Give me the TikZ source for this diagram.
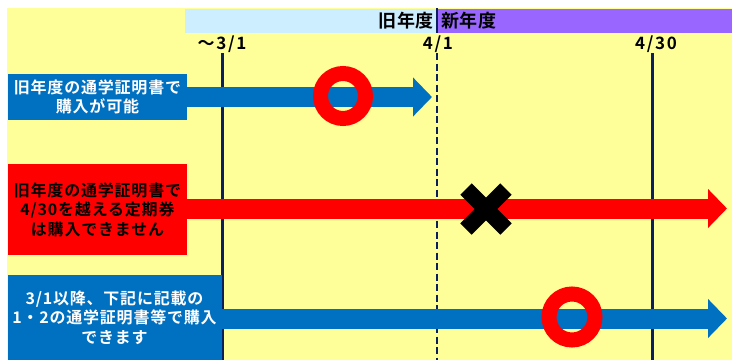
\documentclass[tikz,border=0pt]{standalone}
\usepackage{fontspec}
\setmainfont{Noto Sans CJK JP Bold}
\usetikzlibrary{arrows.meta,calc}
\definecolor{bgyellow}{HTML}{FFFF99}
\definecolor{hdblue}{HTML}{CCEEFF}
\definecolor{hdpurple}{HTML}{9966FF}
\definecolor{boxblue}{HTML}{0070C0}
\definecolor{boxred}{HTML}{FF0000}
\definecolor{navy}{HTML}{0A1F5C}
\tikzset{
  labelbox/.style={inner sep=0pt, align=center, font=\fontsize{16}{19.5}\selectfont\addfontfeature{LetterSpace=5}},
  datelabel/.style={inner sep=0pt, font=\fontsize{17}{17}\selectfont\addfontfeature{LetterSpace=10}},
  hdlabel/.style={inner sep=0pt, font=\fontsize{18}{18}\selectfont\addfontfeature{LetterSpace=3}},
  bigarrow/.style={line width=20pt, -{Triangle[length=19pt,width=38pt]}},
  tline/.style={navy, line width=2.6pt},
  ring/.style={boxred, line width=15pt},
  cross/.style={black, line width=16pt, line cap=butt}
}
\begin{document}
\begin{tikzpicture}[x=1pt,y=-1pt]
\useasboundingbox (0,0) rectangle (732,360);
\fill[white] (0,0) rectangle (732,360);
% background
\fill[bgyellow] (7,8) rectangle (732,360);
% header band
\fill[hdblue] (185,9) rectangle (437,33);
\fill[hdpurple] (437,9) rectangle (732,33);
\draw[navy, line width=2.6pt] (437,8) -- (437,33);
\node[hdlabel, anchor=east] (old) at (434,21) {旧年度};
\node[hdlabel, anchor=west] (new) at (441,21) {新年度};
% date labels
\node[datelabel] (d31) at (222,44) {～3/1};
\node[datelabel] (d41) at (438,44) {4/1};
\node[datelabel] (d430) at (656,44) {4/30};
% vertical time lines
\coordinate (t1) at (222.5,53);
\coordinate (t1b) at (222.5,360);
\coordinate (t2) at (437,53);
\coordinate (t2b) at (437,360);
\coordinate (t3) at (652.5,53);
\coordinate (t3b) at (652.5,360);
\draw[tline] (t1) -- (t1b);
\draw[tline, dash pattern=on 7pt off 3.5pt] (t2) -- (t2b);
\draw[tline] (t3) -- (t3b);
% row 1
\node[labelbox, fill=boxblue, text=white, minimum width=179pt, minimum height=46pt] (b1) at (97.5,97) {旧年度の通学証明書で\\購入が可能};
\coordinate (e1) at (432,97);
\draw[bigarrow, boxblue] (b1.east) -- (e1);
\coordinate (r1) at (343,96);
\draw[ring] (r1) circle (22.5);
% row 2
\node[labelbox, fill=boxred, text=black, minimum width=179pt, minimum height=91pt] (b2) at (97.5,209.5) {旧年度の通学証明書で\\4/30を越える定期券\\は購入できません};
\coordinate (e2) at (727,208.5);
\draw[bigarrow, boxred] (b2.east |- e2) -- (e2);
\coordinate (x2) at (486,209);
\draw[cross] ($(x2)+(-20,-20)$) -- ($(x2)+(20,20)$);
\draw[cross] ($(x2)+(-20,20)$) -- ($(x2)+(20,-20)$);
% row 3
\node[labelbox, fill=boxblue, text=white, minimum width=214pt, minimum height=85pt] (b3) at (114.5,317.5) {3/1以降、下記に記載の\\1・2の通学証明書等で購入\\できます};
\coordinate (e3) at (727,318.5);
\draw[bigarrow, boxblue] (b3.east |- e3) -- (e3);
\coordinate (r3) at (572,317);
\draw[ring] (r3) circle (23);
\end{tikzpicture}
\end{document}
